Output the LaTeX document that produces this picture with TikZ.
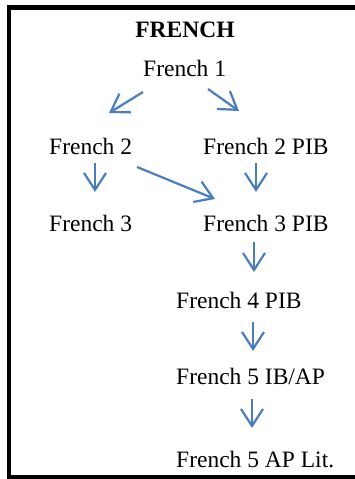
\documentclass[tikz,border=0pt]{standalone}
\usepackage{fontspec}
\setmainfont{Liberation Serif}
\usetikzlibrary{arrows.meta}
\definecolor{arrblue}{HTML}{4A7EBB}
\begin{document}
\begin{tikzpicture}[x=1pt,y=-1pt,
  lbl/.style={anchor=base west,inner sep=0pt,font=\fontsize{23.5}{28}\selectfont},
  ttl/.style={anchor=base,inner sep=0pt,font=\fontsize{23.5}{28}\selectfont\bfseries},
  arr/.style={draw=arrblue,line width=2.2pt,-{Straight Barb[length=17pt,width=22pt]}}]
\useasboundingbox (0,0) rectangle (355,479);
\clip (0,0) rectangle (355,479);
\draw[line width=4.5pt] (385,7.5) -- (9,7.5) -- (9,477) -- (385,477);
\node[ttl] (title) at (185,37) {FRENCH};
\node[lbl] (f1) at (143,76) {French 1};
\node[lbl] (f2) at (49,154) {French 2};
\node[lbl] (f2pib) at (203,154) {French 2 PIB};
\node[lbl] (f3) at (49,231) {French 3};
\node[lbl] (f3pib) at (203,231) {French 3 PIB};
\node[lbl] (f4) at (176,308) {French 4 PIB};
\node[lbl] (f5) at (176,384) {French 5 IB/AP};
\node[lbl] (f5lit) at (176,467) {French 5 AP Lit.};
\draw[arr] ([shift={(0,16)}]f1.base west) -- ([shift={(60,-41)}]f2.base west);
\draw[arr] ([shift={(65,13)}]f1.base west) -- ([shift={(36,-43)}]f2pib.base west);
\draw[arr] ([shift={(46,9)}]f2.base west) -- ([shift={(46,-39)}]f3.base west);
\draw[arr] ([shift={(88,13)}]f2.base west) -- ([shift={(12,-32)}]f3pib.base west);
\draw[arr] ([shift={(53,9)}]f2pib.base west) -- ([shift={(53,-39)}]f3pib.base west);
\draw[arr] ([shift={(51,11)}]f3pib.base west) -- ([shift={(78,-36)}]f4.base west);
\draw[arr] ([shift={(77,14)}]f4.base west) -- ([shift={(77,-33)}]f5.base west);
\draw[arr] ([shift={(76,15)}]f5.base west) -- ([shift={(76,-39)}]f5lit.base west);
\end{tikzpicture}
\end{document}
